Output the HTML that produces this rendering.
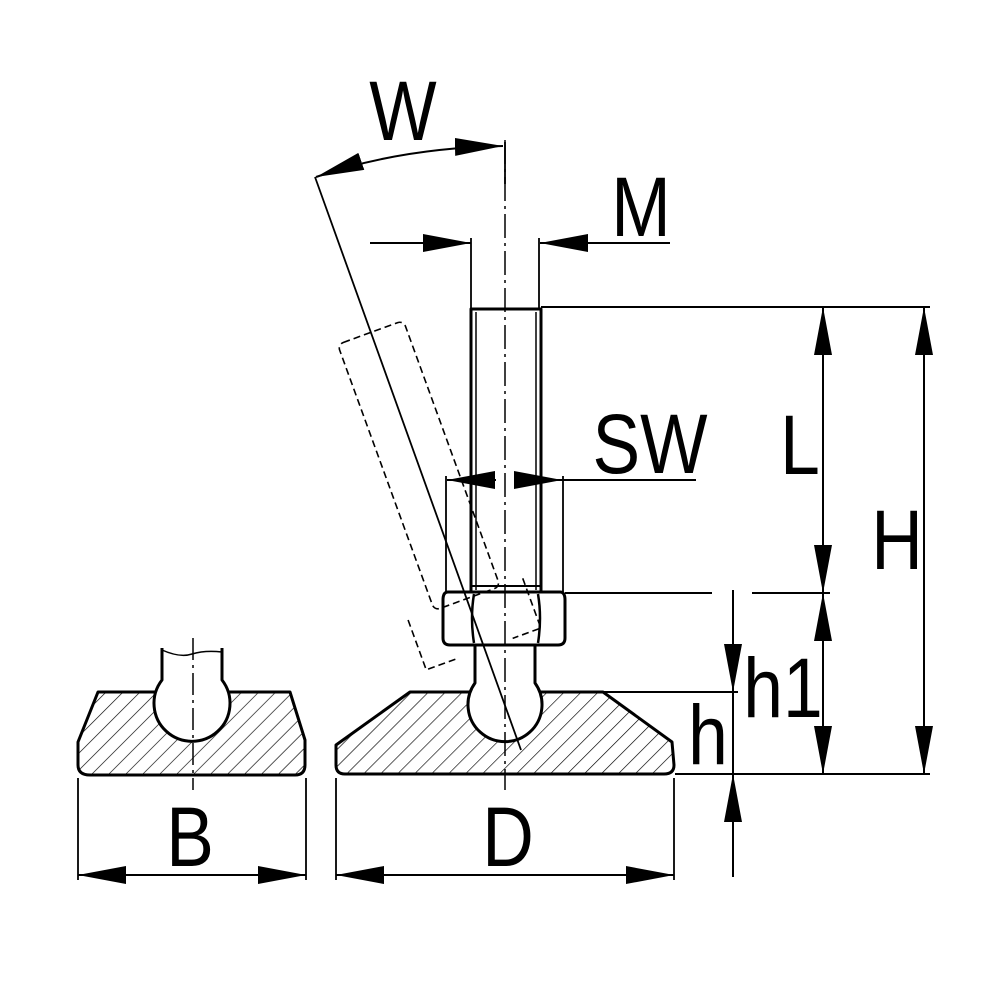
<!DOCTYPE html>
<html><head><meta charset="utf-8"><style>html,body{margin:0;padding:0;background:#fff}svg{display:block}</style></head>
<body>
<svg width="1000" height="1000" viewBox="0 0 1000 1000" xmlns="http://www.w3.org/2000/svg">
<defs>
<pattern id="hat" patternUnits="userSpaceOnUse" width="12" height="12" patternTransform="rotate(45)">
<line x1="0" y1="0" x2="0" y2="12" stroke="#000" stroke-width="1.3"/>
</pattern>
<marker id="a" viewBox="0 0 48 18" refX="48" refY="9" markerWidth="48" markerHeight="18" markerUnits="userSpaceOnUse" orient="auto-start-reverse">
<path d="M0,0 L48,9 L0,18 Z" fill="#000"/>
</marker>
</defs>
<g fill="none" stroke="#000" stroke-linejoin="round">
<!-- small pad -->
<path d="M98,692 L290,692 L305,740 L305,765 Q305,775 295,775 L90,775 Q78,775 78,765 L78,742 Z" fill="url(#hat)" stroke-width="3"/>
<path d="M162,648 L162,680 A38,38 0 1 0 222,680 L222,648" fill="#fff" stroke-width="3"/>
<path d="M162,650 Q180,658 192,654 Q205,650 222,652" stroke-width="1.5"/>
<line x1="193" y1="638" x2="193" y2="790" stroke-width="1.5" stroke-dasharray="22,5,3,5"/>
<!-- main pad -->
<path d="M410,692 L603,692 L672,742 L674,765 Q674,774 664,774 L345,774 Q336,774 336,765 L336,745 Z" fill="url(#hat)" stroke-width="3"/>
<!-- ball + neck -->
<path d="M475,645 L475,683 A37,37 0 1 0 535,683 L535,645" fill="#fff" stroke-width="3"/>
<!-- nut -->
<path d="M448,592 L560,592 Q565,592 565,600 L565,638 Q565,645 558,645 L450,645 Q443,645 443,638 L443,600 Q443,592 448,592 Z" fill="#fff" stroke-width="3"/>
<path d="M474,594 Q470,618 474,643 M538,594 Q542,618 538,643" stroke-width="2.5"/>
<!-- stem -->
<rect x="471" y="309" width="70" height="283" fill="#fff" stroke-width="3"/>
<line x1="476" y1="312" x2="476" y2="590" stroke-width="1.5"/>
<line x1="536" y1="312" x2="536" y2="590" stroke-width="1.5"/>
<line x1="471" y1="586" x2="541" y2="586" stroke-width="2"/>
<!-- tilted phantom -->
<g transform="rotate(-20 505 705)" stroke-width="1.6" stroke-dasharray="7,4">
<rect x="471" y="309" width="70" height="283" rx="6"/>
<path d="M443,592 L443,645 L475,645 M565,592 L565,645 L535,645"/>
</g>
<line x1="315" y1="177" x2="521" y2="750" stroke-width="1.8"/>
<!-- centerline -->
<line x1="505" y1="140" x2="505" y2="790" stroke-width="1.5" stroke-dasharray="24,5,3,5"/>
<!-- W -->
<line x1="505" y1="142" x2="505" y2="184" stroke-width="1.8"/>
<path d="M316,177 Q400,148 503,146" stroke-width="2" marker-start="url(#a)" marker-end="url(#a)"/>
<!-- M -->
<line x1="471" y1="238" x2="471" y2="308" stroke-width="1.8"/>
<line x1="539" y1="238" x2="539" y2="308" stroke-width="1.8"/>
<line x1="370" y1="243" x2="471" y2="243" stroke-width="2" marker-end="url(#a)"/>
<line x1="670" y1="243" x2="540" y2="243" stroke-width="2" marker-end="url(#a)"/>
<!-- SW -->
<line x1="446" y1="476" x2="446" y2="592" stroke-width="1.8"/>
<line x1="563" y1="476" x2="563" y2="592" stroke-width="1.8"/>
<line x1="496" y1="480" x2="447" y2="480" stroke-width="2" marker-end="url(#a)"/>
<line x1="515" y1="480" x2="562" y2="480" stroke-width="2" marker-end="url(#a)"/>
<line x1="562" y1="480" x2="696" y2="480" stroke-width="2"/>
<!-- horizontal ext lines -->
<line x1="541" y1="307" x2="930" y2="307" stroke-width="2"/>
<line x1="565" y1="593" x2="712" y2="593" stroke-width="2"/>
<line x1="752" y1="593" x2="830" y2="593" stroke-width="2"/>
<line x1="600" y1="692" x2="738" y2="692" stroke-width="2"/>
<line x1="675" y1="774" x2="930" y2="774" stroke-width="2"/>
<!-- L, h1, H -->
<line x1="823" y1="307" x2="823" y2="593" stroke-width="2" marker-start="url(#a)" marker-end="url(#a)"/>
<line x1="823" y1="593" x2="823" y2="774" stroke-width="2" marker-start="url(#a)" marker-end="url(#a)"/>
<line x1="924" y1="307" x2="924" y2="774" stroke-width="2" marker-start="url(#a)" marker-end="url(#a)"/>
<!-- h -->
<line x1="733" y1="590" x2="733" y2="692" stroke-width="2" marker-end="url(#a)"/>
<line x1="733" y1="692" x2="733" y2="774" stroke-width="2"/>
<line x1="733" y1="877" x2="733" y2="774" stroke-width="2" marker-end="url(#a)"/>
<!-- B -->
<line x1="78" y1="778" x2="78" y2="880" stroke-width="1.8"/>
<line x1="306" y1="778" x2="306" y2="880" stroke-width="1.8"/>
<line x1="78" y1="875" x2="306" y2="875" stroke-width="2" marker-start="url(#a)" marker-end="url(#a)"/>
<!-- D -->
<line x1="336" y1="778" x2="336" y2="880" stroke-width="1.8"/>
<line x1="674" y1="778" x2="674" y2="880" stroke-width="1.8"/>
<line x1="336" y1="875" x2="674" y2="875" stroke-width="2" marker-start="url(#a)" marker-end="url(#a)"/>
</g>
<g font-family="'Liberation Sans', sans-serif" font-size="84" fill="#000">
<text transform="translate(403,140) scale(0.85,1)" text-anchor="middle">W</text>
<text transform="translate(641,236) scale(0.85,1)" text-anchor="middle">M</text>
<text transform="translate(650,473) scale(0.85,1)" text-anchor="middle">SW</text>
<text transform="translate(800,474) scale(0.85,1)" text-anchor="middle">L</text>
<text transform="translate(897,569) scale(0.85,1)" text-anchor="middle">H</text>
<text transform="translate(783,717) scale(0.85,1)" text-anchor="middle">h1</text>
<text transform="translate(708,764) scale(0.85,1)" text-anchor="middle">h</text>
<text transform="translate(190,866) scale(0.85,1)" text-anchor="middle">B</text>
<text transform="translate(508,866) scale(0.85,1)" text-anchor="middle">D</text>
</g>
</svg>
</body></html>
